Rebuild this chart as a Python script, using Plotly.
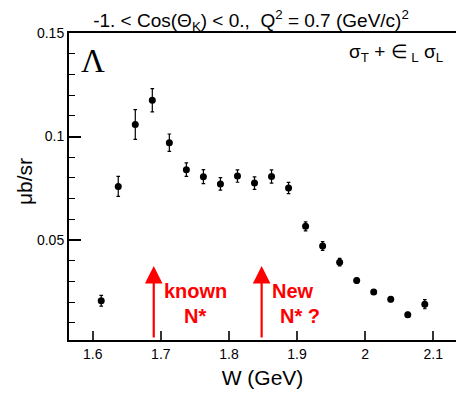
import plotly.graph_objects as go

# ---- data ----
W = [1.6125, 1.6375, 1.6625, 1.6875, 1.7125, 1.7375, 1.7625, 1.7875, 1.8125, 1.8375,
     1.8625, 1.8875, 1.9125, 1.9375, 1.9625, 1.9875, 2.0125, 2.0375, 2.0625, 2.0875]
xsec = [0.0207, 0.0759, 0.1058, 0.1175, 0.0970, 0.0840, 0.0806, 0.0771, 0.0809, 0.0775,
        0.0807, 0.0751, 0.0566, 0.0471, 0.0393, 0.0304, 0.0249, 0.0214, 0.0139, 0.0190]
err = [0.0026, 0.0048, 0.0072, 0.0056, 0.0042, 0.0033, 0.0034, 0.0030, 0.0030, 0.0030,
       0.0032, 0.0027, 0.0022, 0.0021, 0.0018, 0.0012, 0.0012, 0.0012, 0.0012, 0.0022]

x_ticks = [1.6, 1.7, 1.8, 1.9, 2.0, 2.1]
x_tick_labels = ["1.6", "1.7", "1.8", "1.9", "2", "2.1"]

arrow_W = [1.6896, 1.848]          # known N*, new N*
arrow_tip = 0.0375
arrow_base = 0.0022

RED = "#ff0000"
FONT = "Liberation Sans, Arial, Helvetica, sans-serif"
YRANGE = [0.0017, 0.15]

fig = go.Figure()
fig.add_trace(go.Scatter(
    x=W, y=xsec, mode="markers",
    marker=dict(color="black", size=7, symbol="circle"),
    error_y=dict(type="data", array=err, visible=True, color="black",
                 thickness=1.2, width=1.8),
    showlegend=False,
))
# invisible trace to carry the minor-tick axis
fig.add_trace(go.Scatter(x=[W[0]], y=[xsec[0]], yaxis="y2", mode="markers",
                         marker=dict(opacity=0), showlegend=False, hoverinfo="skip"))

# arrows
for xa in arrow_W:
    fig.add_annotation(x=xa, y=arrow_tip, ax=xa, ay=arrow_base,
                       xref="x", yref="y", axref="x", ayref="y",
                       text="", showarrow=True, arrowhead=2, arrowsize=1.6,
                       arrowwidth=2.2, arrowcolor=RED, standoff=0)

lab_font = dict(family=FONT, size=20, color=RED)
fig.add_annotation(x=1.7509, y=0.0255, xref="x", yref="y", text="<b>known</b>",
                   showarrow=False, font=lab_font, xanchor="center", yanchor="middle")
fig.add_annotation(x=1.7502, y=0.0135, xref="x", yref="y", text="<b>N*</b>",
                   showarrow=False, font=lab_font, xanchor="center", yanchor="middle")
fig.add_annotation(x=1.8947, y=0.0255, xref="x", yref="y", text="<b>New</b>",
                   showarrow=False, font=lab_font, xanchor="center", yanchor="middle")
fig.add_annotation(x=1.9050, y=0.0135, xref="x", yref="y", text="<b>N* ?</b>",
                   showarrow=False, font=lab_font, xanchor="center", yanchor="middle")

# Lambda and sigma labels
fig.add_annotation(x=(93 - 69) / 387, y=1 - (61 - 33) / 307, xref="paper", yref="paper",
                   text="Λ", showarrow=False,
                   font=dict(family="Liberation Serif, Times New Roman, serif", size=33, color="black"),
                   xanchor="center", yanchor="middle")
fig.add_annotation(x=(445 - 69) / 387, y=1 - (53 - 33) / 307, xref="paper", yref="paper",
                   text="σ<sub>T</sub> + ∈<sub> L</sub> σ<sub>L</sub>", showarrow=False,
                   font=dict(family=FONT, size=19, color="black"),
                   xanchor="right", yanchor="middle")

# y-axis title
fig.add_annotation(x=(24 - 69) / 387, y=1 - (182 - 33) / 307, xref="paper", yref="paper",
                   text="μb/sr", textangle=-90, showarrow=False,
                   font=dict(family=FONT, size=21, color="black"),
                   xanchor="center", yanchor="middle")

fig.update_layout(
    width=456, height=397,
    margin=dict(l=69, r=0, t=33, b=57),
    paper_bgcolor="white", plot_bgcolor="white",
    font=dict(family=FONT, color="black"),
    title=dict(text="-1. &lt; Cos(Θ<sub>K</sub>) &lt; 0.,&nbsp; Q<sup>2</sup> = 0.7 (GeV/c)<sup>2</sup>",
               x=251 / 456, xanchor="center", xref="container",
               y=1 - 20 / 397, yanchor="middle", yref="container",
               font=dict(family=FONT, size=19, color="black")),
    xaxis=dict(range=[1.5652, 2.1333], showline=True, linecolor="black", linewidth=2,
               mirror=True, ticks="inside", ticklen=9, tickwidth=1.5, tickcolor="#333",
               tickvals=x_ticks, ticktext=x_tick_labels, showgrid=False, zeroline=False,
               tickfont=dict(size=14, family=FONT),
               title=dict(text="W (GeV)", font=dict(size=21, family=FONT), standoff=10)),
    yaxis=dict(range=YRANGE, showline=True, linecolor="black", linewidth=2,
               mirror=False, ticks="inside", ticklen=12, tickwidth=1.5, tickcolor="black",
               tickmode="linear", tick0=0, dtick=0.05, showgrid=False, zeroline=False,
               tickfont=dict(size=14, family=FONT)),
    yaxis2=dict(range=YRANGE, overlaying="y", side="left", showline=False,
                ticks="inside", ticklen=6, tickwidth=1.2, tickcolor="black",
                tickmode="linear", tick0=0, dtick=0.01, showticklabels=False,
                showgrid=False, zeroline=False),
)

fig.write_html("out.html")
